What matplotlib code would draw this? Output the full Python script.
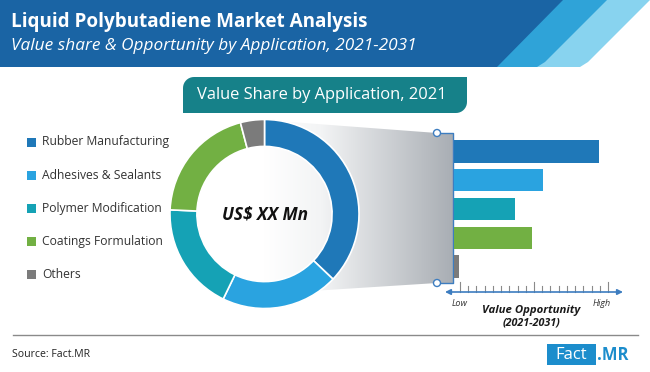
import numpy as np
import matplotlib.pyplot as plt
from matplotlib.patches import Polygon, Rectangle, Circle, PathPatch
from matplotlib.path import Path
from matplotlib.colors import LinearSegmentedColormap

plt.rcParams['font.family'] = ['Open Sans', 'DejaVu Sans']

# data
categories = ['Rubber Manufacturing', 'Adhesives & Sealants', 'Polymer Modification',
              'Coatings Formulation', 'Others']
share_2021 = [37.1, 20.1, 18.5, 20.2, 4.1]      # donut, % value share 2021
opportunity = [94, 58, 40, 51, 3.5]             # bars, Low (0) .. High (100)
colors = ['#1f78b8', '#2aa3e0', '#15a2b5', '#72b043', '#7b7b7b']

title = 'Liquid Polybutadiene Market Analysis'
subtitle = 'Value share & Opportunity by Application, 2021-2031'
box_title = 'Value Share by Application, 2021'
center_label = 'US$ XX Mn'

W, H = 650, 372
fig = plt.figure(figsize=(6.5, 3.72), dpi=100)
bg = fig.add_axes([0, 0, 1, 1])
bg.axis('off')


def fax(x0, y0, x1, y1):
    # pixel box (top-left origin) -> new axes
    return fig.add_axes([x0 / W, 1 - y1 / H, (x1 - x0) / W, (y1 - y0) / H])


def fit(t, width):
    r = fig.canvas.get_renderer()
    w = t.get_window_extent(r).width
    t.set_fontsize(t.get_fontsize() * width / w)


# header band with stripes
bg.add_patch(Polygon([(0, 0), (650, 0), (588, 62), (580, 67), (0, 67)], color='#88d3ef', lw=0))
bg.add_patch(Polygon([(0, 0), (607, 0), (545, 62), (537, 67), (0, 67)], color='#2fa3d8', lw=0))
bg.add_patch(Polygon([(0, 0), (563, 0), (497, 67), (0, 67)], color='#1a64a4', lw=0))
t = bg.text(11, 27, title, color='white', fontsize=12, fontweight='bold', va='baseline')
fit(t, 357)
t = bg.text(11, 50, subtitle, color='white', fontsize=10, style='italic', va='baseline')
fit(t, 404)

# teal title box, rounded top-left and bottom-right
x0, x1, y0, y1, r = 183, 467, 77, 113, 11
a = np.linspace(np.pi, 1.5 * np.pi, 10)
tl = np.c_[x0 + r + r * np.cos(a), y0 + r + r * np.sin(a)]
a = np.linspace(0, 0.5 * np.pi, 10)
br = np.c_[x1 - r + r * np.cos(a), y1 - r + r * np.sin(a)]
verts = np.vstack([[(x0, y1)], tl, [(x1, y0)], br, [(x0, y1)]])
bg.add_patch(PathPatch(Path(verts), color='#168189', lw=0))
t = bg.text(322, 95, box_title, color='white', fontsize=12, ha='center', va='center')
fit(t, 250)

# gray gradient funnel from donut to bars
funnel = Polygon([(264, 120), (437, 133), (453, 133), (453, 283), (437, 283), (264, 294)],
                 facecolor='none', edgecolor='none')
bg.add_patch(funnel)
cmap = LinearSegmentedColormap.from_list('g', [(0, '#ffffff'), (0.3, '#f3f4f5'), (1, '#a9aeb4')])
im = bg.imshow(np.linspace(0, 1, 256).reshape(1, -1), extent=[264, 453, 294, 120],
               cmap=cmap, aspect='auto', zorder=1)
im.set_clip_path(funnel)

# bracket
blue = '#3d7dc0'
bg.plot([440, 453, 453, 440], [133, 133, 283, 283], color=blue, lw=1, zorder=3)
for cy in (133, 283):
    bg.add_patch(Circle((437, cy), 3.5, facecolor='white', edgecolor=blue, lw=1, zorder=4))

# opportunity axis
xs = np.linspace(460, 608, 19)
for i, x in enumerate(xs):
    h = 10 if i in (0, 9, 18) else 6
    bg.plot([x, x], [292 - h, 292], color='#8a8a8a', lw=0.8, zorder=2)
bg.annotate('', xy=(623, 292), xytext=(445, 292),
            arrowprops=dict(arrowstyle='<|-|>', color=blue, lw=1.2, mutation_scale=8,
                            shrinkA=0, shrinkB=0), zorder=3)
bg.text(460, 303, 'Low', fontsize=6.5, style='italic', color='#333333', ha='center', va='center')
bg.text(602, 303, 'High', fontsize=6.5, style='italic', color='#333333', ha='center', va='center')
t = bg.text(531, 310, 'Value Opportunity', fontsize=8.5, style='italic', fontweight='bold',
            color='#1a1a1a', ha='center', va='center')
fit(t, 98)
t = bg.text(531, 323, '(2021-2031)', fontsize=8.5, style='italic', fontweight='bold',
            color='#1a1a1a', ha='center', va='center')
fit(t, 58)

# legend
for i, (c, name) in enumerate(zip(colors, categories)):
    y = 142 + i * 33.2
    bg.add_patch(Rectangle((27, y - 4.5), 9, 9, color=c, lw=0))
    t = bg.text(42, y, name, fontsize=8.5, color='#333333', va='center')
    if i == 0:
        fit(t, 127)
        leg_fs = t.get_fontsize()
    else:
        t.set_fontsize(leg_fs)

# footer
bg.plot([13, 638], [335, 335], color='#8a8a8a', lw=1)
t = bg.text(12, 357, 'Source: Fact.MR', fontsize=8, color='#222222', va='baseline')
fit(t, 78)
bg.add_patch(Rectangle((547, 344), 49, 21, color='#1c8dcc', lw=0))
bg.text(571.5, 355, 'Fact', color='white', fontsize=12, ha='center', va='center')
bg.text(597, 355, '.MR', color='#1c8dcc', fontsize=12, fontweight='bold', ha='left', va='center')

bg.set_xlim(0, W)
bg.set_ylim(H, 0)

# donut
ax = fax(169.5, 119, 359.5, 309)
ax.pie(share_2021, colors=colors, startangle=90, counterclock=False, radius=1,
       wedgeprops=dict(width=0.285, edgecolor='white', linewidth=1.2))
ax.set_xlim(-1.005, 1.005)
ax.set_ylim(-1.005, 1.005)
ax.patch.set_alpha(0)
t = ax.text(0, 0, center_label, fontsize=12, style='italic', fontweight='bold',
            color='#111111', ha='center', va='center')
fit(t, 86)

# bars
bx = fax(453.5, 137.1, 608, 280.9)
bx.barh(range(len(opportunity)), opportunity, height=0.78, color=colors)
bx.set_xlim(0, 100)
bx.set_ylim(len(opportunity) - 0.5, -0.5)
bx.axis('off')

fig.savefig('out.png', dpi=100)
